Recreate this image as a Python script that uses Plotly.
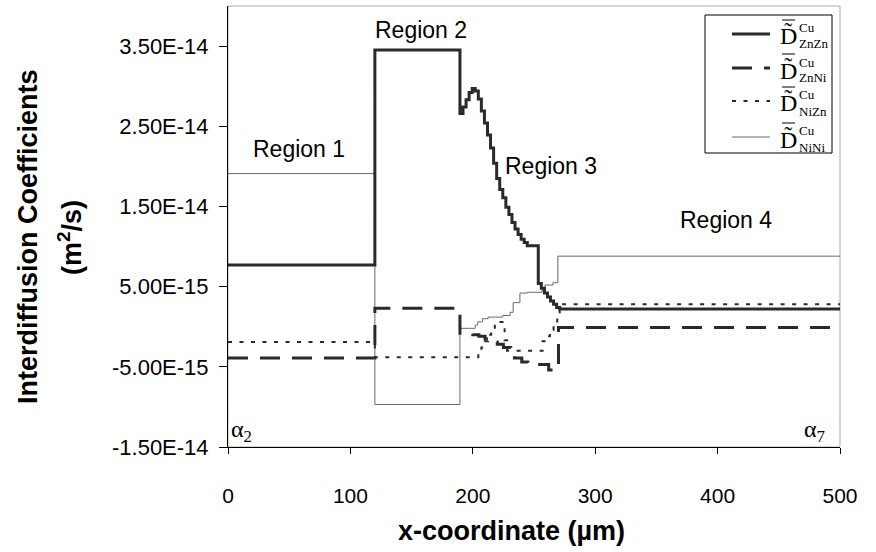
import plotly.graph_objects as go

# Interdiffusion coefficients across the diffusion couple (values in 1e-15 m^2/s)
x_znzn = [0, 120, 189.5, 192, 194.5, 197, 199.5, 202, 204.5, 207, 209.5, 212, 214.5, 217,
          219.5, 222, 224.5, 227, 229.5, 232, 234.5, 237, 239.5, 242, 244.5, 253.5, 256,
          258.5, 261, 263.5, 266, 268.5, 271, 500]
d_znzn = [7.7, 34.5, 26.6, 27.4, 28.3, 29.2, 29.7, 29.4, 28.4, 26.9, 25.4, 23.9, 22.3, 20.4,
          18.5, 17.1, 16.1, 14.9, 14.0, 13.0, 12.2, 11.5, 10.9, 10.5, 10.1, 5.4, 4.8,
          4.2, 3.7, 3.2, 2.8, 2.4, 2.2, 2.2]

x_znni = [0, 120, 189.5, 200, 205, 210, 214, 220, 225, 231, 234, 240, 245, 262, 270, 500]
d_znni = [-3.9, 2.3, -0.8, -1.0, -1.2, -1.5, -1.9, -2.2, -2.6, -3.3, -3.9, -4.4, -4.7, -5.4, -0.1, -0.1]

x_nizn = [0, 120, 204.5, 207, 210, 212.5, 215, 218, 220.5, 226, 228, 257, 260, 263, 266, 269, 271, 500]
d_nizn = [-1.9, -3.8, -3.2, -2.6, -1.8, -1.0, -0.3, 0.3, 0.6, -1.7, -3.0, -1.8, -1.2, -0.4, 0.5, 1.4, 2.8, 2.8]

x_nini = [0, 120, 189.5, 202, 204, 208, 212.5, 224.5, 230.5, 233, 238.5, 244.5, 256.5, 259, 265.5, 269.5, 500]
d_nini = [19.1, -9.7, -0.2, 0.2, 0.6, 1.0, 1.2, 1.4, 1.8, 3.0, 4.2, 4.3, 4.5, 5.2, 5.5, 8.8, 8.8]

x_ticks = [0, 100, 200, 300, 400, 500]
y_ticks = [-1.5e-14, -5e-15, 5e-15, 1.5e-14, 2.5e-14, 3.5e-14]
y_tick_labels = ["-1.50E-14", "-5.00E-15", "5.00E-15", "1.50E-14", "2.50E-14", "3.50E-14"]

series_subs = ["ZnZn", "ZnNi", "NiZn", "NiNi"]

regions = ["Region 1", "Region 2", "Region 3", "Region 4"]
region_x = [58, 158, 264, 407]
region_y = [2.22e-14, 3.70e-14, 2.0e-14, 1.33e-14]

SANS = "Liberation Sans, Arial, sans-serif"
SERIF = "Liberation Serif, Times New Roman, serif"

# plot-area geometry (pixels) used to place the hand-built legend
L, T, W, H = 228, 6, 612, 441


def pxx(x):
    return (x - L) / W


def pxy(y):
    return (T + H - y) / H


styles = {
    "ZnZn": dict(color="#2a2a2a", width=3, dash="solid"),
    "ZnNi": dict(color="#2a2a2a", width=3, dash="20px,12px"),
    "NiZn": dict(color="#2a2a2a", width=2, dash="4px,7.5px"),
    "NiNi": dict(color="#6a6a6a", width=1, dash="solid"),
}

fig = go.Figure()
for name, xs, ds in [("NiNi", x_nini, d_nini), ("NiZn", x_nizn, d_nizn),
                     ("ZnNi", x_znni, d_znni), ("ZnZn", x_znzn, d_znzn)]:
    fig.add_trace(go.Scatter(
        x=xs, y=[v * 1e-15 for v in ds], mode="lines", name=name,
        line=dict(shape="hv", **styles[name]), showlegend=False, hoverinfo="skip"))

shapes = [
    # light plot-area frame
    dict(type="rect", xref="paper", yref="paper", x0=0, y0=0, x1=1, y1=1,
         line=dict(color="#a8a8a8", width=1), layer="below"),
    # legend box
    dict(type="rect", xref="paper", yref="paper", x0=pxx(705), x1=pxx(832),
         y0=pxy(153), y1=pxy(15), line=dict(color="#000", width=1), fillcolor="white"),
]
annotations = []

row_y = [34, 68, 101, 137]
for sub, ry in zip(series_subs, row_y):
    st = styles[sub]
    shapes.append(dict(type="line", xref="paper", yref="paper", x0=pxx(732), x1=pxx(770),
                       y0=pxy(ry), y1=pxy(ry),
                       line=dict(color=st["color"], width=st["width"], dash=st["dash"])))
    dc = ry + 2
    # D with tilde, bar drawn above it
    annotations.append(dict(xref="paper", yref="paper", x=pxx(788), y=pxy(dc), text="D\u0303",
                            showarrow=False, xanchor="center", yanchor="middle",
                            font=dict(family=SERIF, size=24, color="#000")))
    shapes.append(dict(type="line", xref="paper", yref="paper", x0=pxx(782), x1=pxx(795),
                       y0=pxy(dc - 16), y1=pxy(dc - 16), line=dict(color="#000", width=1)))
    annotations.append(dict(xref="paper", yref="paper", x=pxx(797), y=pxy(dc - 8), text="Cu",
                            showarrow=False, xanchor="left", yanchor="middle",
                            font=dict(family=SERIF, size=13, color="#000")))
    annotations.append(dict(xref="paper", yref="paper", x=pxx(797), y=pxy(dc + 8), text=sub,
                            showarrow=False, xanchor="left", yanchor="middle",
                            font=dict(family=SERIF, size=13, color="#000")))

for txt, rx, ry in zip(regions, region_x, region_y):
    annotations.append(dict(x=rx, y=ry, text=txt, showarrow=False, xanchor="center",
                            yanchor="middle", font=dict(family=SANS, size=23, color="#000")))

annotations += [
    dict(x=1, y=-1.3e-14, text="α<sub>2</sub>", showarrow=False, xanchor="left",
         yanchor="middle", font=dict(family=SERIF, size=24, color="#000")),
    dict(x=489, y=-1.3e-14, text="α<sub>7</sub>", showarrow=False, xanchor="right",
         yanchor="middle", font=dict(family=SERIF, size=24, color="#000")),
    dict(xref="paper", yref="paper", x=pxx(511), y=pxy(531), text="<b>x-coordinate (µm)</b>",
         showarrow=False, xanchor="center", yanchor="middle",
         font=dict(family=SANS, size=27, color="#000")),
    dict(xref="paper", yref="paper", x=pxx(28), y=pxy(237),
         text="<b>Interdiffusion Coefficients</b>", textangle=-90, showarrow=False,
         xanchor="center", yanchor="middle", font=dict(family=SANS, size=27, color="#000")),
    dict(xref="paper", yref="paper", x=pxx(70), y=pxy(237),
         text="<b>(m<sup>2</sup>/s)</b>", textangle=-90, showarrow=False,
         xanchor="center", yanchor="middle", font=dict(family=SANS, size=27, color="#000")),
]

fig.update_layout(
    width=876, height=552,
    margin=dict(l=L, r=876 - L - W, t=T, b=552 - T - H),
    paper_bgcolor="white", plot_bgcolor="white",
    shapes=shapes, annotations=annotations,
    xaxis=dict(range=[0, 500], tickvals=x_ticks, ticks="outside", ticklen=6,
               tickcolor="#000", showline=True, linecolor="#000", linewidth=1,
               showgrid=False, zeroline=False, ticklabelstandoff=24,
               tickfont=dict(family=SANS, size=21, color="#000")),
    yaxis=dict(range=[-1.5e-14, 4.0e-14], tickvals=y_ticks, ticktext=y_tick_labels,
               ticks="outside", ticklen=8, tickcolor="#000", showline=True,
               linecolor="#000", linewidth=1, showgrid=False, zeroline=False,
               ticklabelstandoff=6, tickfont=dict(family=SANS, size=22, color="#000")),
)

fig.write_html("out.html")
